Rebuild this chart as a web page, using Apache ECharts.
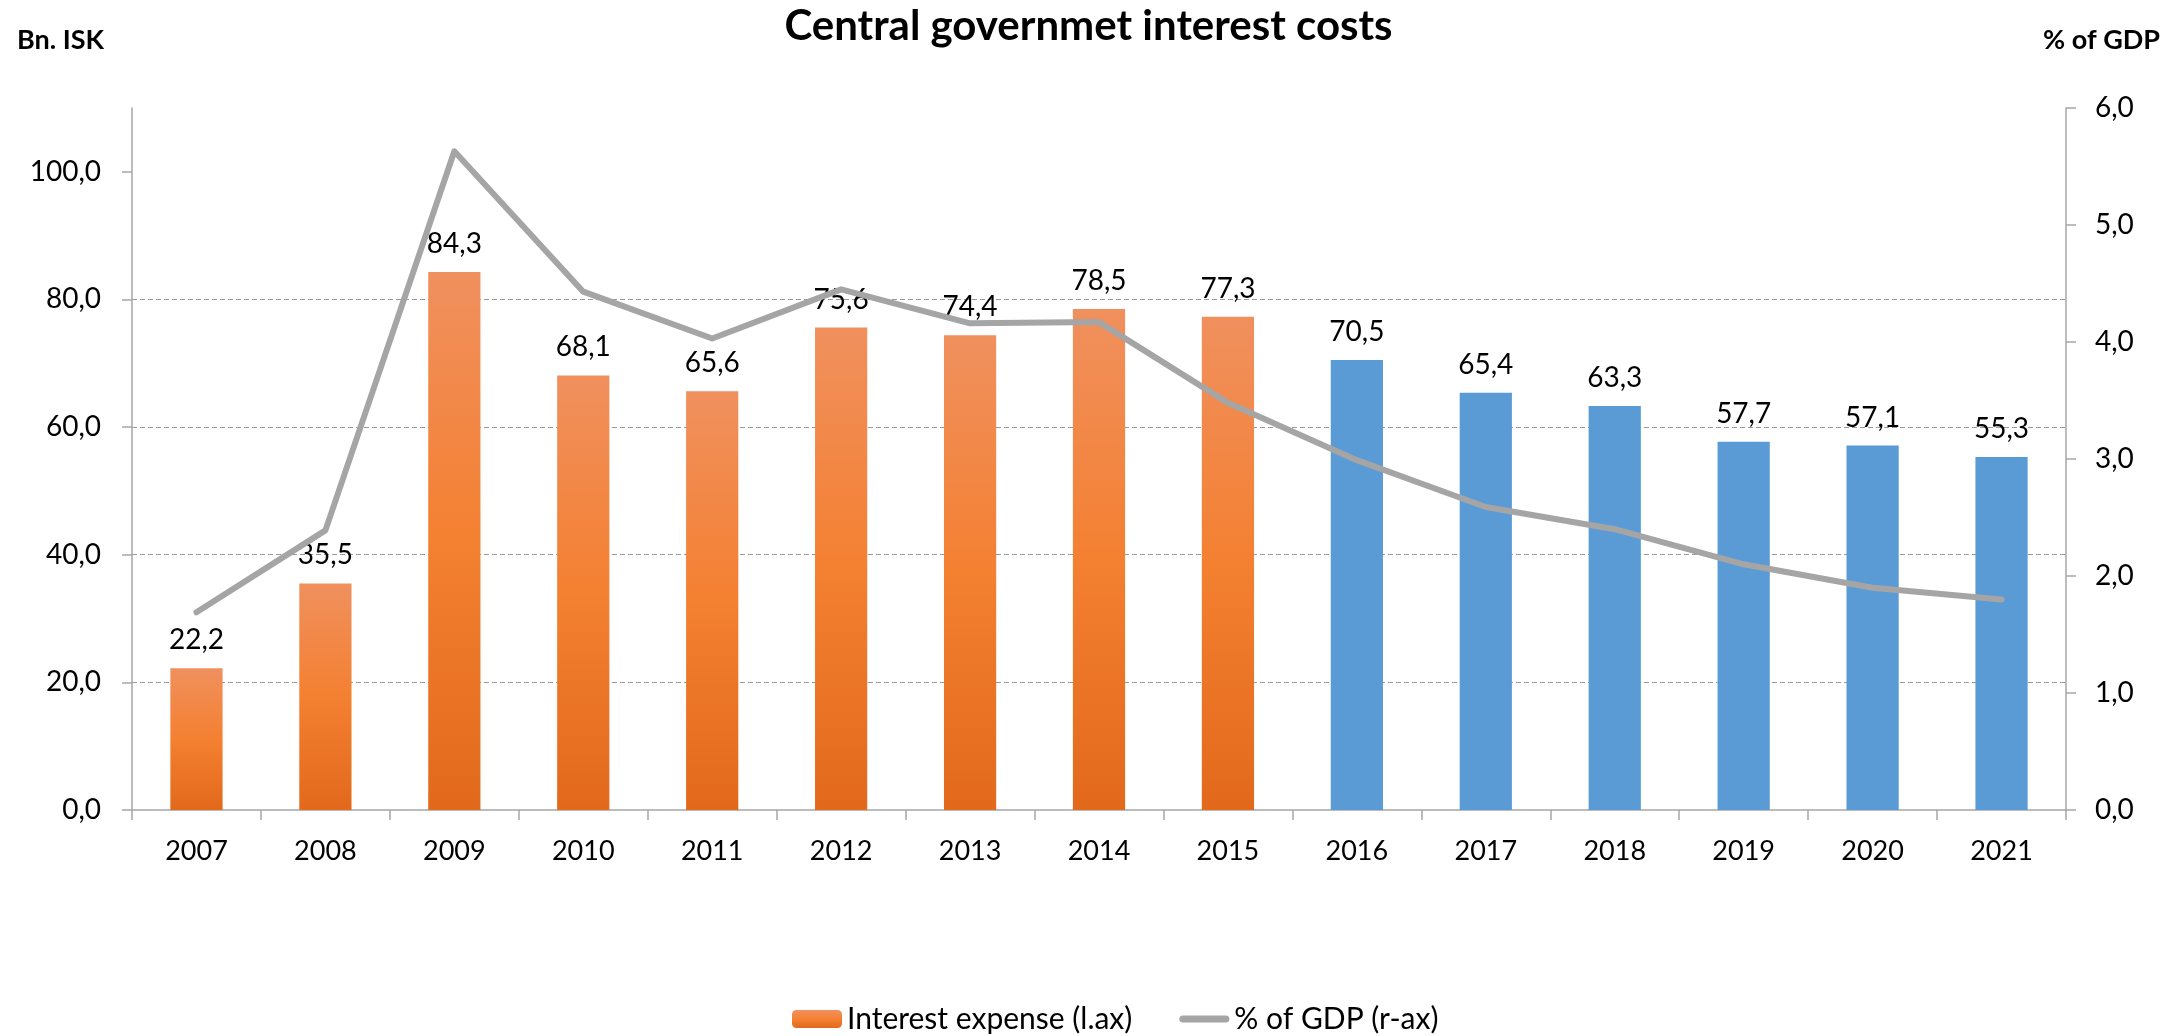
<!DOCTYPE html>
<html>
<head>
<meta charset="utf-8">
<title>Central governmet interest costs</title>
<script src="https://cdn.jsdelivr.net/npm/echarts@6/dist/echarts.min.js"></script>
<style>
  html, body { margin: 0; padding: 0; background: #ffffff; }
  #chart { width: 2177px; height: 1036px; }
</style>
</head>
<body>
<div id="chart"></div>
<script>
// Years on the category axis
const years = ['2007', '2008', '2009', '2010', '2011', '2012', '2013', '2014',
               '2015', '2016', '2017', '2018', '2019', '2020', '2021'];
// Interest expense, bn. ISK (left axis)
const interestExpense = [22.2, 35.5, 84.3, 68.1, 65.6, 75.6, 74.4, 78.5,
                         77.3, 70.5, 65.4, 63.3, 57.7, 57.1, 55.3];
// Interest expense as % of GDP (right axis)
const pctOfGdp = [1.69, 2.39, 5.63, 4.43, 4.03, 4.45, 4.16, 4.17,
                  3.48, 2.99, 2.59, 2.40, 2.10, 1.90, 1.80];
// First year drawn in the projection colour
const firstProjectionYear = '2016';
// Axis tick values
const leftTicks = [0, 20, 40, 60, 80, 100];
const rightTicks = [0, 1, 2, 3, 4, 5, 6];

const FONT = 'Lato';
const fmt = v => Number(v).toFixed(1).replace('.', ',');

const orangeGradient = new echarts.graphic.LinearGradient(0, 0, 0, 1, [
  { offset: 0, color: '#F0905E' },
  { offset: 0.5, color: '#F48031' },
  { offset: 1, color: '#E2691C' }
]);
const projectionBlue = '#5B9BD5';
const lineGrey = '#A5A5A5';
const projStart = years.indexOf(firstProjectionYear);

const barData = interestExpense.map((v, i) => (
  i >= projStart ? { value: v, itemStyle: { color: projectionBlue } } : v
));

const chart = echarts.init(document.getElementById('chart'), null, { renderer: 'canvas' });

chart.setOption({
  backgroundColor: '#ffffff',
  animation: false,
  textStyle: { fontFamily: FONT, color: '#000000' },
  title: [
    {
      text: 'Central governmet interest costs',
      left: 'center',
      top: 0,
      textStyle: { fontFamily: FONT, fontWeight: 'bold', fontSize: 42, color: '#000000' }
    },
    {
      text: 'Bn. ISK',
      left: 12,
      top: 22,
      textStyle: { fontFamily: FONT, fontWeight: 'bold', fontSize: 27, color: '#000000' }
    },
    {
      text: '% of GDP',
      right: 12,
      top: 22,
      textStyle: { fontFamily: FONT, fontWeight: 'bold', fontSize: 27, color: '#000000' }
    }
  ],
  legend: {
    left: 787,
    top: 999,
    itemWidth: 50,
    itemHeight: 18,
    itemGap: 47,
    textStyle: { fontFamily: FONT, fontSize: 30, color: '#000000' },
    data: [
      { name: 'Interest expense (l.ax)' },
      {
        name: '% of GDP (r-ax)',
        icon: 'path://M3.5 0H46.5A3.5 3.5 0 0 1 46.5 7H3.5A3.5 3.5 0 0 1 3.5 0Z',
        itemStyle: { color: lineGrey }
      }
    ]
  },
  grid: {
    left: 132,
    right: 111,
    top: 108,
    bottom: 226,
    containLabel: false,
    outerBoundsMode: 'none'
  },
  xAxis: {
    type: 'category',
    data: years,
    boundaryGap: true,
    axisLine: { lineStyle: { color: '#A6A6A6', width: 1.5 } },
    axisTick: { show: true, length: 10, inside: false, alignWithLabel: false,
                lineStyle: { color: '#A6A6A6', width: 1.5 } },
    axisLabel: { fontFamily: FONT, fontSize: 27, color: '#000000', margin: 28 },
    splitLine: { show: false }
  },
  yAxis: [
    {
      type: 'value',
      min: 0,
      max: 110,
      interval: 20,
      position: 'left',
      axisLine: { show: true, lineStyle: { color: '#A6A6A6', width: 1.5 } },
      axisTick: { show: true, length: 10, inside: false, customValues: leftTicks,
                  lineStyle: { color: '#A6A6A6', width: 1.5 } },
      axisLabel: { fontFamily: FONT, fontSize: 28, color: '#000000', margin: 31,
                   customValues: leftTicks, formatter: fmt },
      splitLine: { show: true, showMinLine: false, showMaxLine: false,
                   lineStyle: { color: '#999999', width: 1, type: [5, 3] } }
    },
    {
      type: 'value',
      min: 0,
      max: 6,
      interval: 1,
      position: 'right',
      axisLine: { show: true, lineStyle: { color: '#A6A6A6', width: 1.5 } },
      axisTick: { show: true, length: 10, inside: false, customValues: rightTicks,
                  lineStyle: { color: '#A6A6A6', width: 1.5 } },
      axisLabel: { fontFamily: FONT, fontSize: 28, color: '#000000', margin: 29,
                   customValues: rightTicks, formatter: fmt },
      splitLine: { show: false }
    }
  ],
  series: [
    {
      name: 'Interest expense (l.ax)',
      type: 'bar',
      yAxisIndex: 0,
      barWidth: '40.5%',
      data: barData,
      itemStyle: { color: orangeGradient },
      label: {
        show: true,
        position: 'top',
        distance: 14,
        fontFamily: FONT,
        fontSize: 28,
        color: '#000000',
        formatter: p => fmt(p.value)
      },
      z: 2
    },
    {
      name: '% of GDP (r-ax)',
      type: 'line',
      yAxisIndex: 1,
      data: pctOfGdp,
      symbol: 'none',
      showSymbol: false,
      lineStyle: { color: lineGrey, width: 6, cap: 'round', join: 'round' },
      itemStyle: { color: lineGrey },
      z: 3
    }
  ]
});
</script>
</body>
</html>
